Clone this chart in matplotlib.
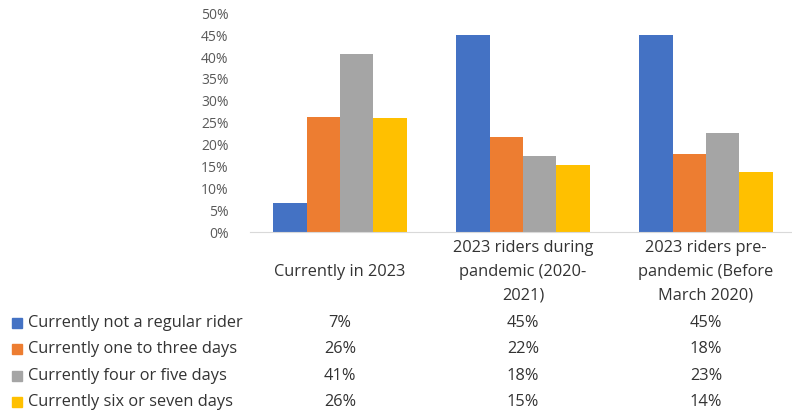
import matplotlib.pyplot as plt
import matplotlib.transforms as mtransforms
import numpy as np

categories = ["Currently in 2023",
              "2023 riders during\npandemic (2020-\n2021)",
              "2023 riders pre-\npandemic (Before\nMarch 2020)"]
series = ["Currently not a regular rider",
          "Currently one to three days",
          "Currently four or five days",
          "Currently six or seven days"]
not_regular = [6.7, 45.1, 45.1]
one_to_three = [26.3, 21.7, 17.9]
four_or_five = [40.6, 17.5, 22.7]
six_or_seven = [26.1, 15.3, 13.8]
values = [not_regular, one_to_three, four_or_five, six_or_seven]
colors = ["#4472C4", "#ED7D31", "#A5A5A5", "#FFC000"]

W, H = 792, 419
fig = plt.figure(figsize=(W / 100, H / 100), dpi=100)
left, right, bottom, top = 249.5, 792, 419 - 232.3, 419 - 13.3
ax = fig.add_axes([left / W, bottom / H, (right - left) / W, (top - bottom) / H])

fam = ["Open Sans", "DejaVu Sans"]
txt_color = "#333333"

x = np.arange(len(categories))
bw = 0.182
for i, (vals, c) in enumerate(zip(values, colors)):
    ax.bar(x + (i - 1.5) * bw, vals, width=bw, color=c, zorder=2)

ax.set_ylim(0, 50)
ax.set_xlim(-0.5 + 1 / 183, -0.5 + (right - left + 1) / 183)
ax.set_yticks(range(0, 51, 5))
ax.set_yticklabels([f"{t}%" for t in range(0, 51, 5)], fontfamily=fam,
                   fontsize=10, color="#595959")
ax.tick_params(axis="y", length=0, pad=15)
ax.set_xticks([])
for s in ["left", "right", "top"]:
    ax.spines[s].set_visible(False)
ax.spines["bottom"].set_color("#d9d9d9")

# data table beneath the chart
trans = mtransforms.blended_transform_factory(ax.transData, fig.transFigure)
fs = 11.8
for xi, cat in zip(x, categories):
    lines = cat.split("\n")
    y0 = 272 if len(lines) == 1 else 248.3
    for k, ln in enumerate(lines):
        ax.text(xi, 1 - (y0 + k * 23.4) / H, ln, transform=trans, ha="center",
                va="center", fontsize=fs, fontfamily=fam, color=txt_color,
                clip_on=False)

row_y = [322.7, 349.0, 375.7, 402.0]
for ry, name, vals, c in zip(row_y, series, values, colors):
    fig.patches.append(plt.Rectangle((12 / W, 1 - (ry + 5) / H), 10 / W, 10 / H,
                                     transform=fig.transFigure, color=c))
    fig.text(28 / W, 1 - ry / H, name, ha="left", va="center", fontsize=fs,
             fontfamily=fam, color=txt_color)
    for xi, v in zip(x, vals):
        ax.text(xi, 1 - ry / H, f"{round(v)}%", transform=trans, ha="center",
                va="center", fontsize=fs, fontfamily=fam, color=txt_color,
                clip_on=False)

fig.savefig("out.png", dpi=100)
